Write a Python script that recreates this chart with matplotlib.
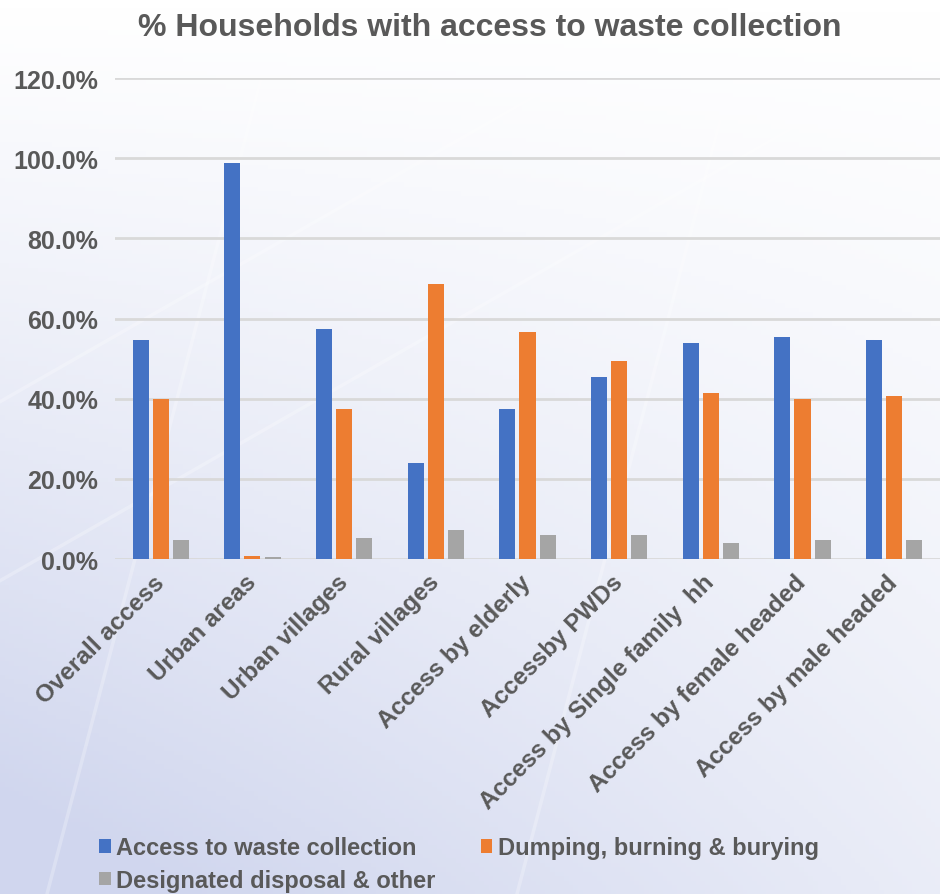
import numpy as np
import matplotlib
matplotlib.use("Agg")
import matplotlib.pyplot as plt
from matplotlib.colors import LinearSegmentedColormap
from matplotlib.ticker import PercentFormatter

# ---------------------------------------------------------------------------
# Data (in %)
# ---------------------------------------------------------------------------
categories = [
    "Overall access", "Urban areas", "Urban villages", "Rural villages",
    "Access by elderly", "Accessby PWDs", "Access by Single family  hh",
    "Access by female headed", "Access by male headed",
]
series_names = [
    "Access to waste collection",
    "Dumping, burning & burying",
    "Designated disposal & other",
]
collection = [54.7, 98.7, 57.3, 24.0, 37.3, 45.3, 54.0, 55.3, 54.7]
dumping = [40.0, 0.7, 37.3, 68.7, 56.7, 49.3, 41.3, 40.0, 40.7]
designated = [4.7, 0.6, 5.3, 7.3, 6.0, 6.0, 4.0, 4.7, 4.7]
y_ticks = [0, 20, 40, 60, 80, 100, 120]

COLORS = ["#4472C4", "#ED7D31", "#A5A5A5"]
TEXT = "#595959"
FONT = "Liberation Sans"

plt.rcParams["font.family"] = [FONT, "DejaVu Sans"]
plt.rcParams["font.weight"] = "bold"

fig = plt.figure(figsize=(9.4, 8.95), dpi=100)

# soft lavender (bottom-left) to white (top-right) background
bg = fig.add_axes([0, 0, 1, 1], zorder=-10)
yy, xx = np.mgrid[0:1:200j, 0:1:200j]
shade = np.clip((1 - yy) ** 1.1 * (1 - 0.55 * xx) + 0.12 * (1 - xx) * (1 - yy), 0, 1)
cmap = LinearSegmentedColormap.from_list("bg", ["#ffffff", "#d0d6ee"])
bg.imshow(shade, cmap=cmap, aspect="auto", extent=[0, 1, 0, 1], vmin=0, vmax=1, origin="lower")
for x0, y0, x1, y1 in [(0.0, 0.35, 1.0, 0.95), (0.05, 0.0, 0.30, 1.0), (0.55, 0.0, 0.80, 1.0),
                       (0.0, 0.55, 0.75, 1.0)]:
    bg.plot([x0, x1], [y0, y1], color="white", lw=2.5, alpha=0.25)
bg.set_xlim(0, 1)
bg.set_ylim(0, 1)
bg.axis("off")

ax = fig.add_axes([0.1223, 0.3743, 0.8777, 0.5374])
ax.patch.set_alpha(0)

x = np.arange(len(categories))
width = 0.175
offset = 0.22
for i, (vals, color, name) in enumerate(zip([collection, dumping, designated], COLORS, series_names)):
    ax.bar(x + (i - 1) * offset, vals, width, color=color, label=name, zorder=3)

ax.set_xlim(-0.5, len(categories) - 0.5)
ax.set_ylim(0, 120)
ax.set_yticks(y_ticks)
ax.yaxis.set_major_formatter(PercentFormatter(decimals=1))
ax.grid(axis="y", color="#D9D9D9", linewidth=2, zorder=0)
for s in ax.spines.values():
    s.set_visible(False)
ax.tick_params(axis="both", length=0, colors=TEXT)
ax.tick_params(axis="y", pad=12, labelsize=18)
ax.set_xticks(x)
ax.set_xticklabels(categories, rotation=45, ha="right", va="center",
                   rotation_mode="anchor", fontsize=17.5, color=TEXT)
ax.tick_params(axis="x", pad=14)
for lbl in ax.get_yticklabels():
    lbl.set_fontweight("bold")

fig.text(0.521, 0.969, "% Households with access to waste collection", ha="center", va="center",
         fontsize=23, fontweight="bold", color=TEXT)

handles, labels = ax.get_legend_handles_labels()
order = [0, 2, 1]
leg = fig.legend([handles[k] for k in order], [labels[k] for k in order],
                 ncol=2, frameon=False, loc="upper left", bbox_to_anchor=(0.095, 0.075),
                 prop={"family": FONT, "weight": "bold", "size": 17},
                 handlelength=0.5, handleheight=0.5, handletextpad=0.25,
                 columnspacing=1.9, labelspacing=0.4, borderaxespad=0)
for t in leg.get_texts():
    t.set_color(TEXT)

fig.savefig("out.png", dpi=100)
